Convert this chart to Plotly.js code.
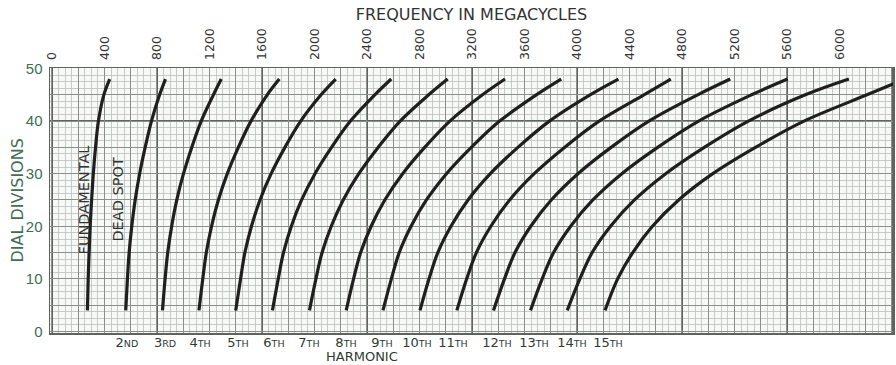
<!DOCTYPE html>
<html>
<head>
<meta charset="utf-8">
<script src="https://cdn.plot.ly/plotly-3.0.1.min.js"></script>
<style>
  html, body { margin: 0; padding: 0; background: #ffffff; }
  #chart { width: 896px; height: 365px; }
</style>
</head>
<body>
<div id="chart"></div>
<script>
// Dial setting (y) at which each curve was read
const dialDivisions = [4, 10, 15, 20, 25, 30, 35, 40, 45, 48];

// Frequency in megacycles for each curve
const fundamental = [270, 276, 283, 291, 302, 315, 332, 354, 395, 440];
const harmonic2  = [562, 575, 588, 608, 634, 668, 710, 758, 820, 865];
const harmonic3  = [842, 862, 882, 912, 951, 1002, 1065, 1137, 1230, 1290];
const harmonic4  = [1120, 1149, 1176, 1216, 1268, 1336, 1420, 1516, 1640, 1732];
const harmonic5  = [1400, 1437, 1470, 1520, 1585, 1670, 1775, 1895, 2050, 2162];
const harmonic6  = [1680, 1724, 1764, 1824, 1902, 2004, 2130, 2274, 2460, 2585];
const harmonic7  = [1962, 2011, 2058, 2128, 2219, 2338, 2485, 2653, 2870, 3015];
const harmonic8  = [2242, 2298, 2352, 2432, 2536, 2672, 2840, 3032, 3280, 3452];
const harmonic9  = [2522, 2586, 2646, 2736, 2853, 3006, 3195, 3411, 3690, 3880];
const harmonic10 = [2804, 2873, 2940, 3040, 3170, 3340, 3550, 3790, 4100, 4316];
const harmonic11 = [3085, 3160, 3234, 3344, 3487, 3674, 3905, 4169, 4510, 4715];
const harmonic12 = [3364, 3448, 3528, 3648, 3804, 4008, 4260, 4548, 4920, 5168];
const harmonic13 = [3646, 3735, 3822, 3952, 4121, 4342, 4615, 4927, 5330, 5605];
const harmonic14 = [3926, 4022, 4116, 4256, 4438, 4676, 4970, 5306, 5740, 6072];
const harmonic15 = [4214, 4310, 4425, 4575, 4775, 5035, 5360, 5730, 6210, 6500];

const curves = [fundamental, harmonic2, harmonic3, harmonic4, harmonic5, harmonic6,
  harmonic7, harmonic8, harmonic9, harmonic10, harmonic11, harmonic12,
  harmonic13, harmonic14, harmonic15];

// Harmonic labels along the bottom and their positions (megacycles)
const harmonicLabels = ["2ND", "3RD", "4TH", "5TH", "6TH", "7TH", "8TH", "9TH",
  "10TH", "11TH", "12TH", "13TH", "14TH", "15TH"];
const harmonicLabelMHz = [571, 861, 1128, 1417, 1691, 1958, 2240, 2514, 2781, 3055,
  3390, 3672, 3962, 4236];

// Top axis tick labels (megacycles) and left axis tick labels (dial divisions)
const freqTicks = [0, 400, 800, 1200, 1600, 2000, 2400, 2800, 3200, 3600, 4000,
  4400, 4800, 5200, 5600, 6000, 6400];
const dialTicks = [0, 10, 20, 30, 40, 50];

const FONT = "DejaVu Sans, Liberation Sans, sans-serif";
const GREEN = "#3f6e52";
const MAJOR = "#5d655e";
const MEDIUM = "#8a918b";
const MINOR = "#bac0bb";
const XR = [-15, 6408];
const YR = [-0.3, 50.1];

const traces = curves.map((f, i) => ({
  x: f, y: dialDivisions, type: "scatter", mode: "lines",
  line: { color: "#1f1f1f", width: 3.2, shape: "spline", smoothing: 1 },
  xaxis: "x", yaxis: "y", hoverinfo: "skip", showlegend: false,
  name: i === 0 ? "Fundamental" : harmonicLabels[i - 1]
}));
// empty helper traces so the grid-only overlay axes are created
traces.push({ x: [], y: [], type: "scatter", mode: "lines", xaxis: "x2", yaxis: "y", showlegend: false, hoverinfo: "skip" });
traces.push({ x: [], y: [], type: "scatter", mode: "lines", xaxis: "x3", yaxis: "y2", showlegend: false, hoverinfo: "skip" });

const fmtLabel = s => {
  const m = s.match(/^(\d+)(\D+)$/);
  return m[1] + "<span style='font-size:9.5px'>" + m[2] + "</span>";
};

const layout = {
  width: 896, height: 365,
  margin: { l: 50, r: 3, t: 68, b: 32, pad: 0 },
  paper_bgcolor: "#ffffff",
  plot_bgcolor: "#f6f9f5",
  showlegend: false,
  font: { family: FONT, color: "#333" },
  xaxis: {
    side: "top", range: XR, tickmode: "array", tickvals: freqTicks,
    ticktext: freqTicks.map(String), tickangle: -90,
    tickfont: { size: 12.5, color: "#333", family: FONT },
    showgrid: true, gridcolor: MAJOR, gridwidth: 1.3,
    minor: { dtick: 50, tick0: 0, showgrid: true, gridcolor: MINOR, gridwidth: 0.8 },
    zeroline: false, showline: true, linecolor: MAJOR, linewidth: 1.5, mirror: true,
    ticks: "", ticklabelstandoff: 4,
    title: { text: "FREQUENCY IN MEGACYCLES", font: { size: 16, color: "#333", family: FONT }, standoff: 3 }
  },
  xaxis2: {
    overlaying: "x", side: "bottom", anchor: "y", range: XR,
    tickmode: "array", tickvals: harmonicLabelMHz, ticktext: harmonicLabels.map(fmtLabel),
    tickfont: { size: 13, color: "#2f3a33", family: FONT },
    showgrid: false, zeroline: false, ticks: "", showline: false,
    ticklabelstandoff: 0
  },
  xaxis3: {
    overlaying: "x", anchor: "y", range: XR, tick0: 0, dtick: 200,
    showgrid: true, gridcolor: MEDIUM, gridwidth: 1,
    showticklabels: false, ticks: "", zeroline: false, showline: false
  },
  yaxis: {
    range: YR, tickmode: "array", tickvals: dialTicks,
    tickfont: { size: 15, color: GREEN, family: "Liberation Sans, Arial, sans-serif" },
    showgrid: true, gridcolor: MAJOR, gridwidth: 1.3,
    minor: { dtick: 1.25, tick0: 0, showgrid: true, gridcolor: MINOR, gridwidth: 0.8 },
    zeroline: false, showline: true, linecolor: MAJOR, linewidth: 1.5, mirror: true,
    ticks: "", ticklabelstandoff: 3
  },
  yaxis2: {
    overlaying: "y", anchor: "x", range: YR, tick0: 0, dtick: 5,
    showgrid: true, gridcolor: MEDIUM, gridwidth: 1,
    showticklabels: false, ticks: "", zeroline: false, showline: false
  },
  annotations: [
    { text: "DIAL DIVISIONS", xref: "paper", yref: "paper", x: -0.038, y: 0.5,
      xanchor: "center", yanchor: "middle", textangle: -90, showarrow: false,
      font: { size: 16, color: GREEN, family: FONT } },
    { text: "HARMONIC", xref: "paper", yref: "paper", x: 0.37, y: -0.089,
      xanchor: "center", yanchor: "middle", showarrow: false,
      font: { size: 13, color: "#2f3a33", family: FONT } },
    { text: "FUNDAMENTAL", xref: "x", yref: "y", x: 240, y: 25, textangle: -90,
      showarrow: false, font: { size: 14.5, color: "#333", family: FONT } },
    { text: "DEAD SPOT", xref: "x", yref: "y", x: 500, y: 25, textangle: -90,
      showarrow: false, font: { size: 14.5, color: "#333", family: FONT } }
  ]
};

Plotly.newPlot("chart", traces, layout, { staticPlot: true, displayModeBar: false });
</script>
</body>
</html>
